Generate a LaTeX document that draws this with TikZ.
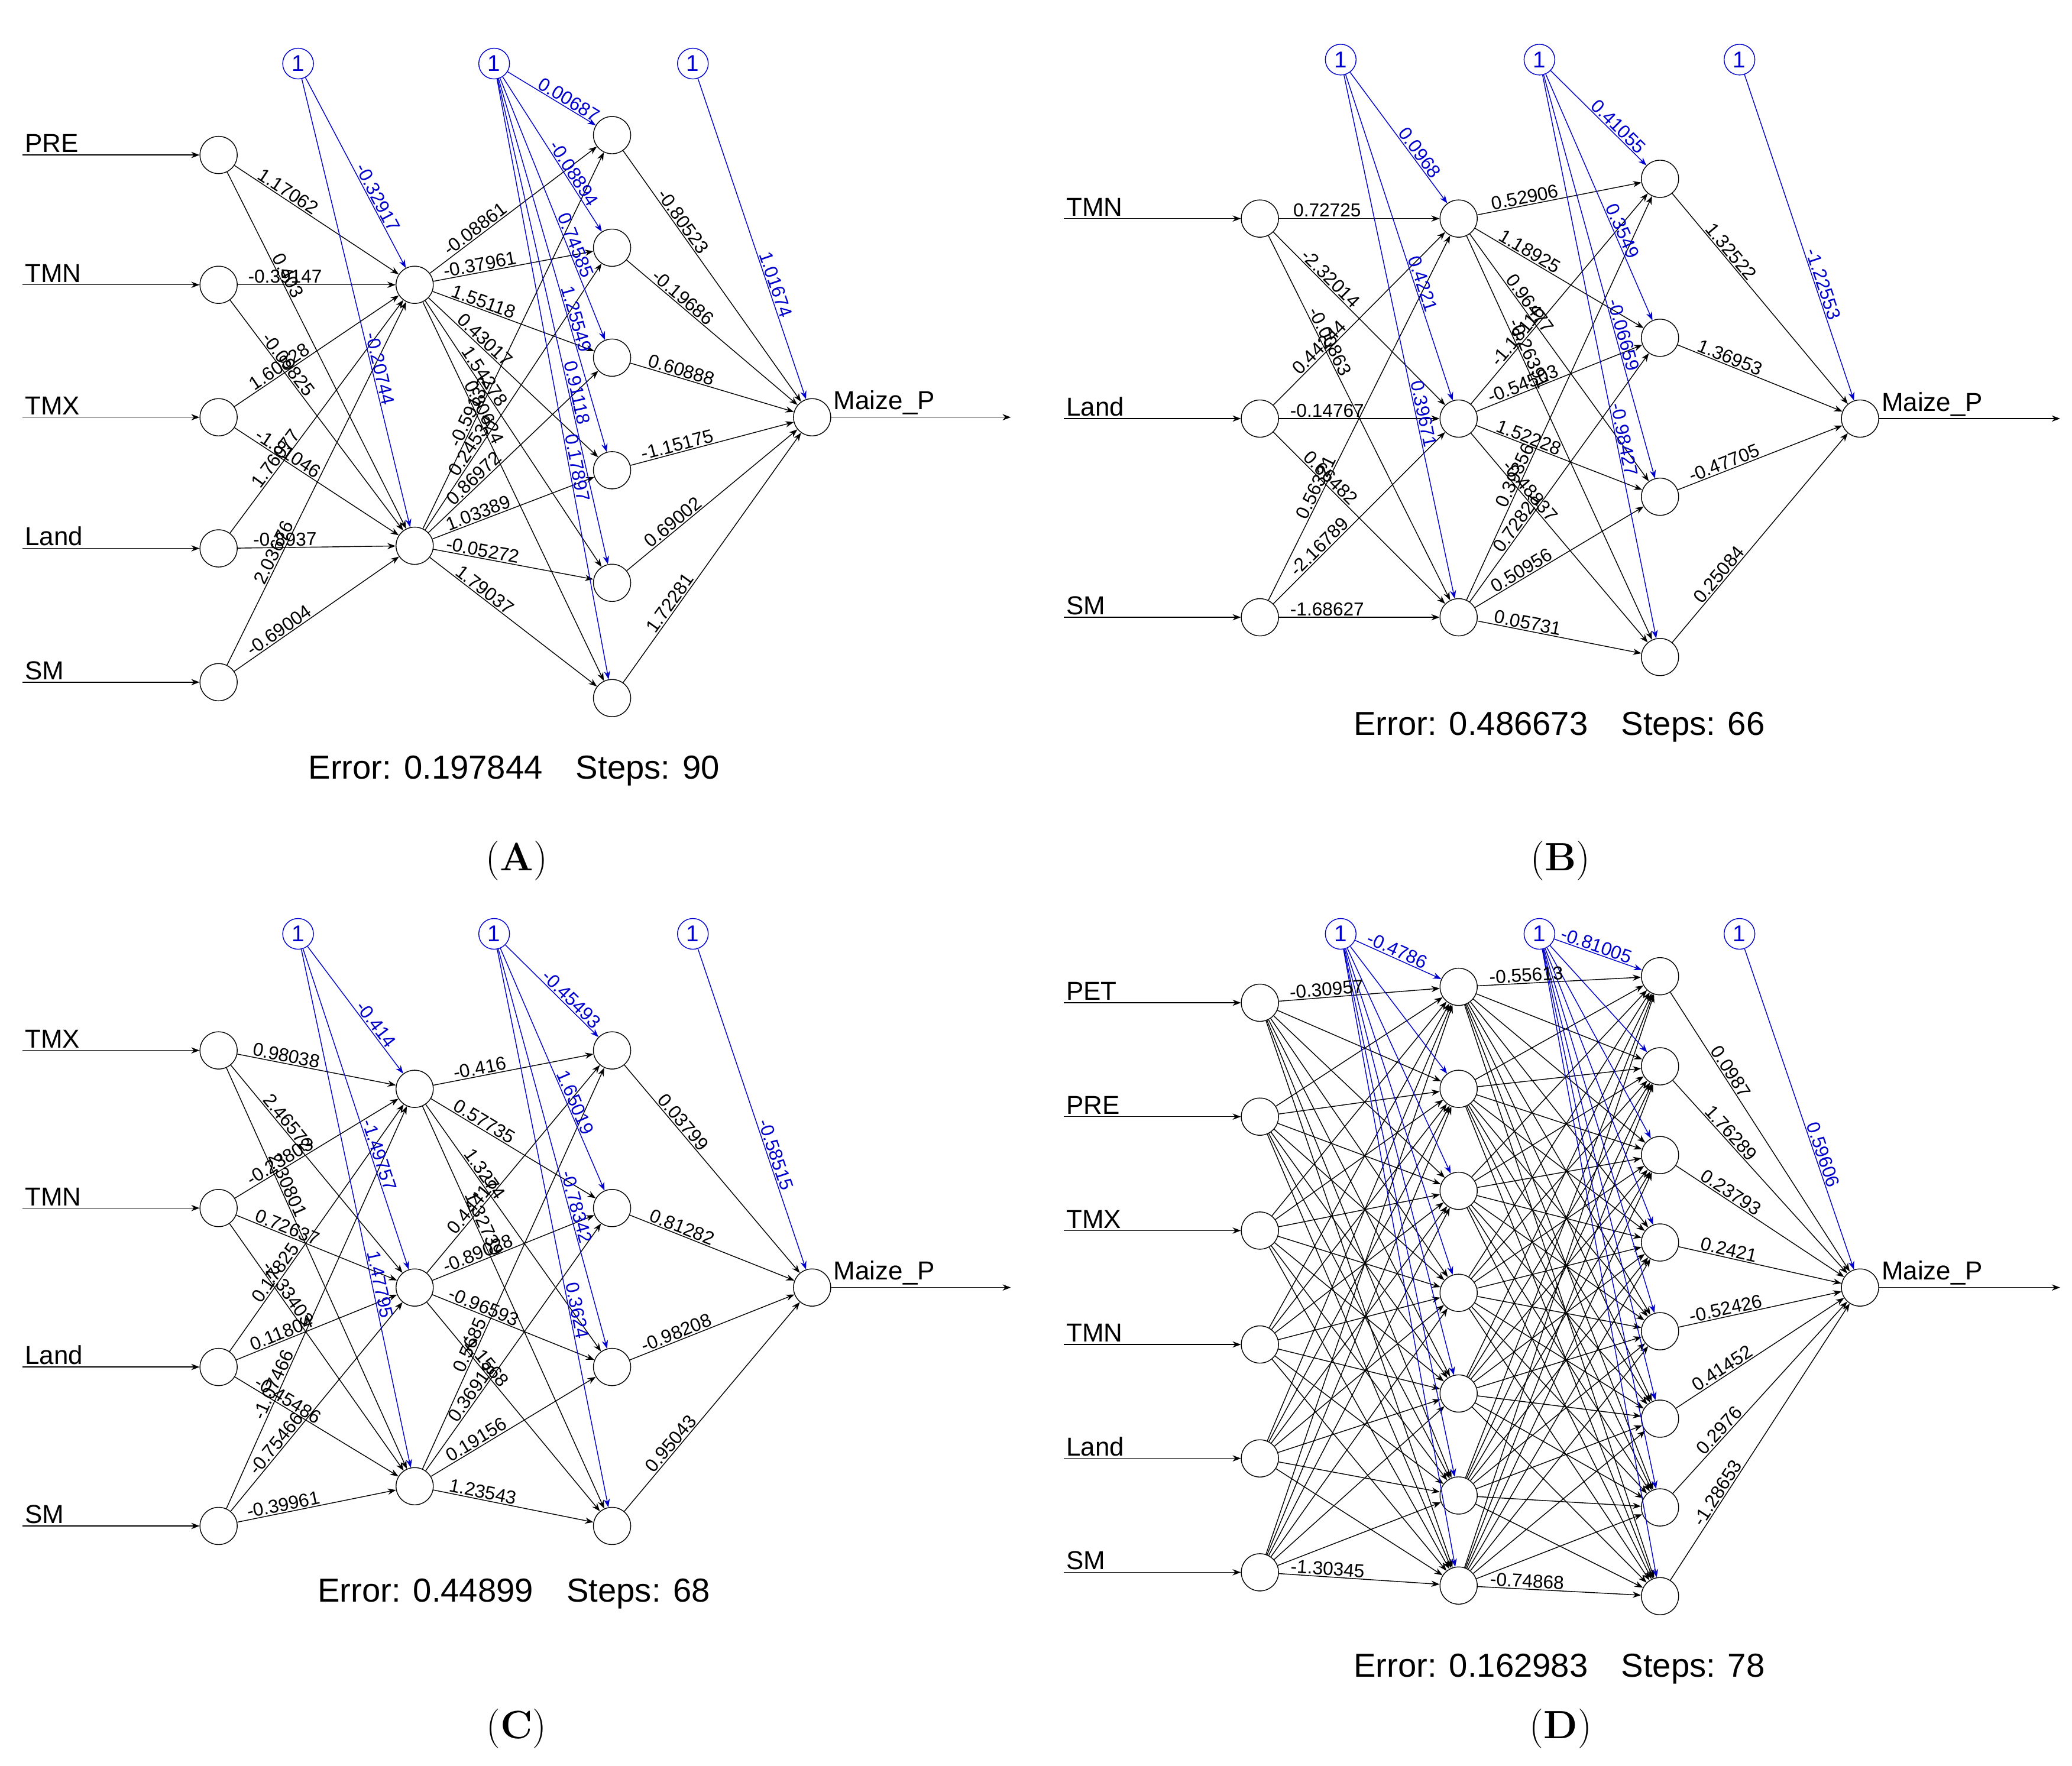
\documentclass[tikz,border=0pt]{standalone}
\usepackage{fontspec}
\setmainfont{Liberation Sans}
\usetikzlibrary{arrows.meta}
\newfontfamily\capfont{Latin Modern Roman}
\begin{document}
\begin{tikzpicture}[x=0.0224cm, y=-0.0224cm,
    neuron/.style={draw, circle, thin, minimum size=0.63cm, inner sep=0pt},
    bias/.style={draw=blue!80!black, circle, thin, minimum size=0.52cm, inner sep=0pt,
        text=blue!80!black, font=\fontsize{11}{12}\selectfont},
    edge/.style={draw=black, line width=0.4pt, -{Stealth[length=4pt,width=3pt]}},
    bedge/.style={draw=blue!80!black, line width=0.4pt, -{Stealth[length=4pt,width=3pt]}},
    wlab/.style={pos=0.3, sloped, above, inner sep=0.5pt, font=\fontsize{9}{10}\selectfont},
    blab/.style={pos=0.65, sloped, above, inner sep=0.5pt, text=blue!80!black, font=\fontsize{9}{10}\selectfont},
    inlab/.style={anchor=south west, inner sep=1pt, font=\fontsize{12.5}{14}\selectfont},
    err/.style={font=\fontsize{16}{18}\selectfont},
    panel label/.style={font=\capfont\fontsize{19}{21}\selectfont}]
    \useasboundingbox (0,0) rectangle (1564,1333);

    % ---------- (A)
    \foreach \n/\y/\t in {1/117/PRE,2/215/TMN,3/315/TMX,4/414/Land,5/515/SM} {
        \node[neuron] (A-i\n) at (165,\y) {};
        \coordinate (A-s\n) at (17,\y);
        \draw[edge] (A-s\n) -- (A-i\n);
        \node[inlab] at (A-s\n) {\t};
    }
    \foreach \n/\y in {1/215,2/412} \node[neuron] (A-h\n) at (313,\y) {};
    \foreach \n/\y in {1/102,2/187,3/270,4/355,5/440,6/527} \node[neuron] (A-k\n) at (462,\y) {};
    \node[neuron] (A-o) at (613,315) {};
    \coordinate (A-e) at (763,315);
    \draw[edge] (A-o) -- (A-e);
    \node[inlab] at (A-o.east) {Maize\_P};
    \node[bias] (A-b1) at (225,48) {1};
    \node[bias] (A-b2) at (373,48) {1};
    \node[bias] (A-b3) at (523,48) {1};

    \foreach \t/\w in {1/1.17062,2/0.403} \draw[edge] (A-i1) -- (A-h\t) node[wlab] {\w};
    \foreach \t/\w in {1/-0.39147,2/-0.09825} \draw[edge] (A-i2) -- (A-h\t) node[wlab] {\w};
    \foreach \t/\w in {1/1.60828,2/-1.81046} \draw[edge] (A-i3) -- (A-h\t) node[wlab] {\w};
    \foreach \t/\w in {1/1.76077,2/-0.8937} \draw[edge] (A-i4) -- (A-h\t) node[wlab] {\w};
    \foreach \t/\w in {1/2.03676,2/-0.69004} \draw[edge] (A-i5) -- (A-h\t) node[wlab] {\w};
    \foreach \t/\w in {1/-0.32917,2/-0.20744} \draw[bedge] (A-b1) -- (A-h\t) node[blab] {\w};
    \foreach \t/\w in {1/-0.08861,2/-0.37961,3/1.55118,4/0.43017,5/1.54278,6/0.80624}
        \draw[edge] (A-h1) -- (A-k\t) node[wlab] {\w};
    \foreach \t/\w in {1/-0.59132,2/0.24534,3/0.86972,4/1.03389,5/-0.05272,6/1.79037}
        \draw[edge] (A-h2) -- (A-k\t) node[wlab] {\w};
    \foreach \t/\w in {1/0.00687,2/-0.08894,3/0.74585,4/1.25549,5/0.91118,6/0.17897}
        \draw[bedge] (A-b2) -- (A-k\t) node[blab] {\w};
    \foreach \t/\w in {1/-0.80523,2/-0.19686,3/0.60888,4/-1.15175,5/0.69002,6/1.72281}
        \draw[edge] (A-k\t) -- (A-o) node[wlab] {\w};
    \draw[bedge] (A-b3) -- (A-o) node[blab] {1.01674};
    \node[err] at (388,582) {Error: 0.197844\quad Steps: 90};
    \node[panel label] at (390,650) {(\textbf{A})};

    % ---------- (B)
    \foreach \n/\y/\t in {1/165/TMN,2/316/Land,3/466/SM} {
        \node[neuron] (B-i\n) at (951,\y) {};
        \coordinate (B-s\n) at (803,\y);
        \draw[edge] (B-s\n) -- (B-i\n);
        \node[inlab] at (B-s\n) {\t};
    }
    \foreach \n/\y in {1/165,2/316,3/466} \node[neuron] (B-h\n) at (1101,\y) {};
    \foreach \n/\y in {1/135,2/255,3/375,4/496} \node[neuron] (B-k\n) at (1253,\y) {};
    \node[neuron] (B-o) at (1404,316) {};
    \coordinate (B-e) at (1555,316);
    \draw[edge] (B-o) -- (B-e);
    \node[inlab] at (B-o.east) {Maize\_P};
    \node[bias] (B-b1) at (1012,45) {1};
    \node[bias] (B-b2) at (1162,45) {1};
    \node[bias] (B-b3) at (1313,45) {1};

    \foreach \t/\w in {1/0.72725,2/-2.32014,3/-0.00863} \draw[edge] (B-i1) -- (B-h\t) node[wlab] {\w};
    \foreach \t/\w in {1/0.44244,2/-0.14767,3/0.66482} \draw[edge] (B-i2) -- (B-h\t) node[wlab] {\w};
    \foreach \t/\w in {1/0.56321,2/-2.16789,3/-1.68627} \draw[edge] (B-i3) -- (B-h\t) node[wlab] {\w};
    \foreach \t/\w in {1/0.0968,2/0.4221,3/0.39671} \draw[bedge] (B-b1) -- (B-h\t) node[blab] {\w};
    \foreach \t/\w in {1/0.52906,2/1.18925,3/0.96477,4/-0.26391}
        \draw[edge] (B-h1) -- (B-k\t) node[wlab] {\w};
    \foreach \t/\w in {1/-1.18116,2/-0.54503,3/1.52228,4/-0.48837}
        \draw[edge] (B-h2) -- (B-k\t) node[wlab] {\w};
    \foreach \t/\w in {1/0.39356,2/0.72821,3/0.50956,4/0.05731}
        \draw[edge] (B-h3) -- (B-k\t) node[wlab] {\w};
    \foreach \t/\w in {1/0.41055,2/0.3549,3/-0.06659,4/-0.98427}
        \draw[bedge] (B-b2) -- (B-k\t) node[blab] {\w};
    \foreach \t/\w in {1/1.32522,2/1.36953,3/-0.47705,4/0.25084}
        \draw[edge] (B-k\t) -- (B-o) node[wlab] {\w};
    \draw[bedge] (B-b3) -- (B-o) node[blab] {-1.22553};
    \node[err] at (1177,549) {Error: 0.486673\quad Steps: 66};
    \node[panel label] at (1178,650) {(\textbf{B})};

    % ---------- (C)
    \foreach \n/\y/\t in {1/793/TMX,2/912/TMN,3/1032/Land,4/1152/SM} {
        \node[neuron] (C-i\n) at (165,\y) {};
        \coordinate (C-s\n) at (17,\y);
        \draw[edge] (C-s\n) -- (C-i\n);
        \node[inlab] at (C-s\n) {\t};
    }
    \foreach \n/\y in {1/822,2/972,3/1122} \node[neuron] (C-h\n) at (313,\y) {};
    \foreach \n/\y in {1/793,2/912,3/1032,4/1152} \node[neuron] (C-k\n) at (462,\y) {};
    \node[neuron] (C-o) at (613,972) {};
    \coordinate (C-e) at (763,972);
    \draw[edge] (C-o) -- (C-e);
    \node[inlab] at (C-o.east) {Maize\_P};
    \node[bias] (C-b1) at (225,705) {1};
    \node[bias] (C-b2) at (373,705) {1};
    \node[bias] (C-b3) at (523,705) {1};

    \foreach \t/\w in {1/0.98038,2/2.46572,3/2.30801} \draw[edge] (C-i1) -- (C-h\t) node[wlab] {\w};
    \foreach \t/\w in {1/-0.23803,2/0.72637,3/-2.33403} \draw[edge] (C-i2) -- (C-h\t) node[wlab] {\w};
    \foreach \t/\w in {1/0.17825,2/0.11804,3/-0.45486} \draw[edge] (C-i3) -- (C-h\t) node[wlab] {\w};
    \foreach \t/\w in {1/-1.07466,2/-0.75466,3/-0.39961} \draw[edge] (C-i4) -- (C-h\t) node[wlab] {\w};
    \foreach \t/\w in {1/-0.414,2/-1.49757,3/1.47795} \draw[bedge] (C-b1) -- (C-h\t) node[blab] {\w};
    \foreach \t/\w in {1/-0.416,2/0.57735,3/1.3274,4/1.32739}
        \draw[edge] (C-h1) -- (C-k\t) node[wlab] {\w};
    \foreach \t/\w in {1/0.44416,2/-0.89028,3/-0.96593,4/-1.1568}
        \draw[edge] (C-h2) -- (C-k\t) node[wlab] {\w};
    \foreach \t/\w in {1/0.5685,2/0.36918,3/0.19156,4/1.23543}
        \draw[edge] (C-h3) -- (C-k\t) node[wlab] {\w};
    \foreach \t/\w in {1/-0.45493,2/1.65019,3/-0.78342,4/0.3624}
        \draw[bedge] (C-b2) -- (C-k\t) node[blab] {\w};
    \foreach \t/\w in {1/0.03799,2/0.81282,3/-0.98208,4/0.95043}
        \draw[edge] (C-k\t) -- (C-o) node[wlab] {\w};
    \draw[bedge] (C-b3) -- (C-o) node[blab] {-0.58515};
    \node[err] at (388,1203) {Error: 0.44899\quad Steps: 68};
    \node[panel label] at (390,1305) {(\textbf{C})};

    % ---------- (D)
    \foreach \n/\y/\t in {1/757/PET,2/843/PRE,3/929/TMX,4/1015/TMN,5/1101/Land,6/1187/SM} {
        \node[neuron] (D-i\n) at (951,\y) {};
        \coordinate (D-s\n) at (803,\y);
        \draw[edge] (D-s\n) -- (D-i\n);
        \node[inlab] at (D-s\n) {\t};
    }
    \foreach \n/\y in {1/745,2/822,3/899,4/976,5/1052,6/1129,7/1197} \node[neuron] (D-h\n) at (1101,\y) {};
    \foreach \n/\y in {1/737,2/805,3/872,4/938,5/1005,6/1071,7/1138,8/1205} \node[neuron] (D-k\n) at (1253,\y) {};
    \node[neuron] (D-o) at (1404,972) {};
    \coordinate (D-e) at (1555,972);
    \draw[edge] (D-o) -- (D-e);
    \node[inlab] at (D-o.east) {Maize\_P};
    \node[bias] (D-b1) at (1012,705) {1};
    \node[bias] (D-b2) at (1162,705) {1};
    \node[bias] (D-b3) at (1313,705) {1};

    \foreach \s in {1,...,6} \foreach \t in {1,...,7} \draw[edge] (D-i\s) -- (D-h\t);
    \foreach \t in {1,...,7} \draw[bedge] (D-b1) -- (D-h\t);
    \foreach \s in {1,...,7} \foreach \t in {1,...,8} \draw[edge] (D-h\s) -- (D-k\t);
    \foreach \t in {1,...,8} \draw[bedge] (D-b2) -- (D-k\t);
    \path (D-i1) -- (D-h1) node[wlab] {-0.30957};
    \path (D-i6) -- (D-h7) node[wlab] {-1.30345};
    \path (D-b1) -- (D-h1) node[blab, pos=0.45] {-0.4786};
    \path (D-h1) -- (D-k1) node[wlab] {-0.55613};
    \path (D-h7) -- (D-k8) node[wlab] {-0.74868};
    \path (D-b2) -- (D-k1) node[blab, pos=0.45] {-0.81005};
    \foreach \t/\w in {1/0.0987,2/1.76289,3/0.23793,4/0.2421,5/-0.52426,6/0.41452,7/0.2976,8/-1.28653}
        \draw[edge] (D-k\t) -- (D-o) node[wlab] {\w};
    \draw[bedge] (D-b3) -- (D-o) node[blab] {0.59606};
    \node[err] at (1177,1260) {Error: 0.162983\quad Steps: 78};
    \node[panel label] at (1178,1305) {(\textbf{D})};

\end{tikzpicture}
\end{document}
